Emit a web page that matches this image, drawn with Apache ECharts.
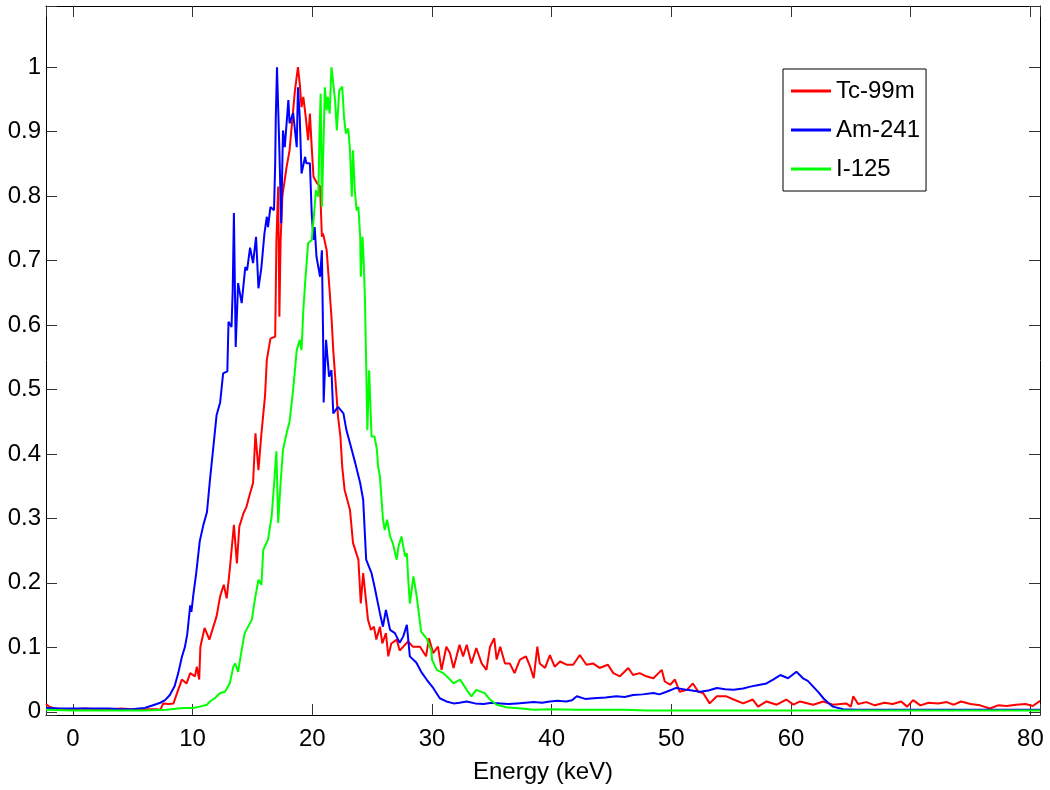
<!DOCTYPE html>
<html>
<head>
<meta charset="utf-8">
<script src="https://cdn.jsdelivr.net/npm/echarts@6/dist/echarts.min.js"></script>
<style>
html,body{margin:0;padding:0;background:#fff;}
#chart{width:1050px;height:790px;}
</style>
</head>
<body>
<div id="chart"></div>
<script>
// ---- data: [energy keV, normalized counts] ----
const seriesNames = ['Tc-99m', 'Am-241', 'I-125'];
const xTickValues = [0, 10, 20, 30, 40, 50, 60, 70, 80];
const yTickValues = [0, 0.1, 0.2, 0.3, 0.4, 0.5, 0.6, 0.7, 0.8, 0.9, 1];
const xRange = [-2.25, 80.8];
const yRange = [-0.005, 1.095];

const tc99m = [[-2.25,0.012],[-2,0.008],[-1.5,0.005],[-1,0.004],[0,0.004],[1,0.005],[2,0.004],[3,0.004],[4,0.005],[5,0.004],[6,0.004],[7,0.004],[7.3,0.003],[7.55,0.013],[8.0,0.012],[8.4,0.013],[8.7,0.029],[9.1,0.05],[9.5,0.044],[9.8,0.06],[10.2,0.055],[10.35,0.07],[10.55,0.05],[10.65,0.101],[11.0,0.13],[11.4,0.112],[12.0,0.148],[12.3,0.179],[12.6,0.197],[12.85,0.176],[13.1,0.22],[13.45,0.29],[13.7,0.23],[13.9,0.287],[14.25,0.308],[14.5,0.318],[14.8,0.339],[15.05,0.355],[15.25,0.432],[15.5,0.375],[15.75,0.432],[16.05,0.49],[16.2,0.546],[16.5,0.579],[16.9,0.582],[16.95,0.654],[17.0,0.73],[17.15,0.815],[17.25,0.613],[17.35,0.73],[17.5,0.8],[17.85,0.845],[18.1,0.871],[18.35,0.923],[18.55,0.964],[18.8,1.0],[18.95,0.975],[19.1,0.938],[19.25,0.954],[19.45,0.923],[19.65,0.887],[19.8,0.928],[19.95,0.876],[20.1,0.83],[20.4,0.82],[20.65,0.815],[20.8,0.737],[20.9,0.742],[21.2,0.716],[21.4,0.665],[21.6,0.613],[21.75,0.561],[21.95,0.51],[22.15,0.458],[22.35,0.427],[22.5,0.38],[22.7,0.344],[23.15,0.313],[23.4,0.262],[23.85,0.236],[24.05,0.168],[24.25,0.215],[24.45,0.179],[24.65,0.143],[24.9,0.127],[25.15,0.132],[25.35,0.112],[25.65,0.132],[25.85,0.106],[26.15,0.122],[26.35,0.086],[26.6,0.106],[27.05,0.112],[27.3,0.095],[27.6,0.101],[28.0,0.109],[28.4,0.101],[29.0,0.101],[29.5,0.086],[29.75,0.114],[30.1,0.091],[30.5,0.101],[30.8,0.065],[31.2,0.101],[31.5,0.091],[31.8,0.068],[32.3,0.104],[32.6,0.086],[32.9,0.104],[33.3,0.075],[33.7,0.099],[34.15,0.075],[34.55,0.065],[34.85,0.101],[35.2,0.114],[35.4,0.081],[35.7,0.101],[36.1,0.075],[36.5,0.075],[36.9,0.06],[37.35,0.081],[37.85,0.086],[38.2,0.07],[38.5,0.052],[38.8,0.101],[39.0,0.075],[39.45,0.068],[39.85,0.088],[40.25,0.07],[40.7,0.078],[41.25,0.073],[41.8,0.073],[42.35,0.088],[42.9,0.073],[43.45,0.075],[44.0,0.068],[44.7,0.073],[45.15,0.06],[45.7,0.055],[46.4,0.068],[46.8,0.057],[47.35,0.06],[47.9,0.055],[48.5,0.052],[49.2,0.065],[49.45,0.047],[49.9,0.042],[50.3,0.05],[50.7,0.031],[51.3,0.034],[51.8,0.044],[52.25,0.031],[52.65,0.029],[53.2,0.013],[53.8,0.024],[54.6,0.024],[55.2,0.019],[56.0,0.013],[56.8,0.019],[57.25,0.008],[57.95,0.016],[58.8,0.011],[59.6,0.019],[60.2,0.011],[60.75,0.016],[61.85,0.011],[62.7,0.016],[63.5,0.011],[64.6,0.013],[65.0,0.008],[65.2,0.024],[65.6,0.012],[66.3,0.015],[67.0,0.01],[67.8,0.014],[68.5,0.012],[69.2,0.016],[69.7,0.008],[70.2,0.018],[70.8,0.01],[71.5,0.014],[72.3,0.013],[73.0,0.015],[73.6,0.011],[74.2,0.016],[75.0,0.012],[75.8,0.01],[76.6,0.005],[77.3,0.01],[78.0,0.009],[78.8,0.011],[79.6,0.012],[80.2,0.009],[80.8,0.017]];

const am241 = [[-2.25,0.006],[-1,0.005],[0,0.005],[1,0.005],[2,0.005],[3,0.005],[4,0.004],[5,0.004],[5.5,0.005],[6,0.006],[6.5,0.009],[7,0.012],[7.3,0.014],[7.7,0.018],[8.1,0.026],[8.5,0.04],[8.8,0.06],[9.1,0.085],[9.35,0.1],[9.55,0.12],[9.8,0.165],[9.9,0.155],[10.05,0.18],[10.3,0.215],[10.6,0.265],[10.9,0.29],[11.2,0.31],[11.45,0.36],[11.7,0.405],[12.0,0.46],[12.3,0.48],[12.45,0.48],[12.55,0.525],[12.9,0.528],[13.0,0.605],[13.25,0.597],[13.35,0.654],[13.45,0.774],[13.6,0.566],[13.8,0.665],[14.1,0.634],[14.4,0.69],[14.55,0.685],[14.8,0.72],[15.05,0.696],[15.3,0.737],[15.5,0.657],[15.75,0.69],[16.0,0.742],[16.2,0.768],[16.3,0.752],[16.5,0.783],[16.8,0.778],[16.9,0.851],[16.95,0.923],[17.05,1.0],[17.25,0.871],[17.4,0.758],[17.55,0.902],[17.7,0.876],[18.0,0.949],[18.1,0.913],[18.4,0.929],[18.7,0.876],[18.8,0.969],[18.95,0.923],[19.1,0.835],[19.4,0.861],[19.5,0.851],[19.8,0.851],[19.95,0.773],[20.1,0.732],[20.2,0.752],[20.35,0.706],[20.65,0.675],[20.8,0.716],[20.9,0.587],[20.95,0.48],[21.15,0.577],[21.4,0.52],[21.6,0.53],[21.75,0.463],[22.15,0.473],[22.6,0.463],[22.85,0.437],[23.3,0.406],[23.6,0.385],[24.0,0.355],[24.25,0.329],[24.5,0.236],[24.95,0.215],[25.2,0.194],[25.65,0.153],[25.9,0.132],[26.15,0.158],[26.5,0.127],[26.9,0.122],[27.3,0.107],[27.6,0.117],[27.9,0.135],[28.15,0.086],[28.7,0.076],[29.1,0.062],[29.55,0.05],[30.1,0.037],[30.65,0.021],[31.2,0.016],[31.8,0.013],[32.3,0.014],[32.9,0.016],[33.6,0.013],[34.3,0.012],[35.0,0.014],[35.7,0.013],[36.4,0.012],[37.1,0.013],[37.8,0.014],[38.5,0.015],[39.2,0.014],[39.85,0.016],[40.5,0.017],[41.2,0.016],[41.7,0.018],[42.1,0.024],[42.8,0.02],[43.5,0.021],[44.5,0.022],[45.4,0.024],[46.1,0.023],[46.8,0.026],[47.6,0.027],[48.5,0.029],[49.0,0.027],[49.6,0.031],[50.4,0.037],[51.3,0.034],[52.4,0.031],[53.1,0.033],[53.8,0.037],[54.5,0.035],[55.2,0.034],[56.0,0.036],[56.6,0.039],[57.4,0.042],[57.95,0.044],[58.5,0.05],[59.1,0.057],[59.75,0.052],[60.45,0.062],[61.0,0.052],[61.4,0.048],[61.85,0.039],[62.3,0.03],[62.7,0.021],[63.1,0.014],[63.5,0.008],[64.35,0.004],[65.5,0.003],[67,0.003],[69,0.003],[71,0.003],[73,0.003],[75,0.003],[77,0.003],[79,0.003],[80.8,0.003]];

const i125 = [[-2.25,0.003],[0,0.002],[2,0.002],[4,0.002],[6,0.002],[7.8,0.003],[9.2,0.006],[10.05,0.006],[10.6,0.008],[11.2,0.011],[11.45,0.016],[11.85,0.021],[12.3,0.029],[12.7,0.031],[13.1,0.044],[13.4,0.07],[13.55,0.075],[13.8,0.062],[14.1,0.096],[14.35,0.122],[14.95,0.143],[15.2,0.174],[15.5,0.205],[15.75,0.197],[15.9,0.251],[16.3,0.267],[16.6,0.303],[16.75,0.339],[17.0,0.404],[17.15,0.293],[17.35,0.355],[17.55,0.406],[17.85,0.432],[18.1,0.45],[18.4,0.5],[18.7,0.561],[18.95,0.577],[19.1,0.561],[19.25,0.623],[19.4,0.665],[19.65,0.727],[19.95,0.732],[20.15,0.773],[20.3,0.809],[20.5,0.799],[20.6,0.897],[20.7,0.959],[20.8,0.783],[20.9,0.856],[21.05,0.969],[21.2,0.933],[21.3,0.954],[21.45,0.928],[21.6,1.0],[21.75,0.975],[21.9,0.949],[22.05,0.902],[22.25,0.964],[22.5,0.97],[22.65,0.923],[22.8,0.897],[23.0,0.905],[23.15,0.871],[23.3,0.799],[23.4,0.871],[23.55,0.809],[23.7,0.778],[23.85,0.783],[24.0,0.737],[24.05,0.675],[24.2,0.737],[24.3,0.696],[24.4,0.639],[24.5,0.54],[24.6,0.437],[24.75,0.53],[24.95,0.427],[25.2,0.427],[25.4,0.406],[25.5,0.38],[25.65,0.365],[25.9,0.3],[26.05,0.282],[26.25,0.298],[26.5,0.272],[26.75,0.26],[27.05,0.236],[27.2,0.256],[27.45,0.272],[27.75,0.241],[27.9,0.246],[28.0,0.21],[28.15,0.168],[28.45,0.21],[28.7,0.182],[29.1,0.124],[29.55,0.114],[29.95,0.095],[30.0,0.081],[30.4,0.065],[30.95,0.06],[31.4,0.052],[31.8,0.044],[32.35,0.05],[32.9,0.034],[33.3,0.024],[33.7,0.034],[34.4,0.029],[34.85,0.019],[35.4,0.011],[36.2,0.007],[37.5,0.005],[38.5,0.003],[40,0.004],[42,0.003],[44,0.003],[46,0.003],[48,0.002],[50,0.002],[55,0.002],[60,0.002],[65,0.002],[70,0.002],[75,0.002],[80.8,0.002]];

const seriesData = [tc99m, am241, i125];
const seriesColors = ['#ff0000', '#0000ff', '#00ff00'];
// ---------------------------------------------

const FONT = '"Liberation Sans", Arial, Helvetica, sans-serif';
function isTick(v, list) { return list.some(t => Math.abs(t - v) < 1e-6); }
function xFmt(v) { return isTick(v, xTickValues) ? String(Math.round(v)) : ''; }
function yFmt(v) { return isTick(v, yTickValues) ? String(Math.round(v * 10) / 10) : ''; }

const axisLineStyle = { color: '#000', width: 1 };
const tickStyle = { show: true, inside: true, length: 11, lineStyle: { color: '#333', width: 1 } };

const chart = echarts.init(document.getElementById('chart'), null, { renderer: 'canvas' });
chart.setOption({
  animation: false,
  backgroundColor: '#fff',
  textStyle: { fontFamily: FONT },
  grid: { left: 46, right: 10, top: 6, bottom: 75, containLabel: false, outerBoundsMode: 'none' },
  legend: {
    data: seriesNames.map(n => ({ name: n, icon: 'rect' })),
    orient: 'vertical',
    left: 783, top: 69,
    backgroundColor: '#fff',
    borderColor: '#000', borderWidth: 1, borderRadius: 0,
    padding: [10, 6, 10, 8],
    itemWidth: 40, itemHeight: 3, itemGap: 15,
    textStyle: { fontFamily: FONT, fontSize: 24, color: '#000', lineHeight: 24 }
  },
  xAxis: [{
    type: 'value', min: xRange[0], max: xRange[1], minInterval: 10, maxInterval: 10,
    name: 'Energy (keV)', nameLocation: 'middle', nameGap: 45,
    nameTextStyle: { fontFamily: FONT, fontSize: 24, color: '#000' },
    axisLine: { show: true, onZero: false, lineStyle: axisLineStyle },
    axisTick: tickStyle,
    axisLabel: { formatter: xFmt, fontFamily: FONT, fontSize: 24, color: '#000', margin: 12, hideOverlap: false },
    splitLine: { show: false }
  }, {
    type: 'value', position: 'top', min: xRange[0], max: xRange[1], minInterval: 10, maxInterval: 10,
    axisLine: { show: true, onZero: false, lineStyle: axisLineStyle },
    axisTick: tickStyle, axisLabel: { show: false }, splitLine: { show: false }
  }],
  yAxis: [{
    type: 'value', min: yRange[0], max: yRange[1], minInterval: 0.1, maxInterval: 0.1,
    axisLine: { show: true, onZero: false, lineStyle: axisLineStyle },
    axisTick: tickStyle,
    axisLabel: { formatter: yFmt, fontFamily: FONT, fontSize: 24, color: '#000', margin: 5, hideOverlap: false },
    splitLine: { show: false }
  }, {
    type: 'value', position: 'right', min: yRange[0], max: yRange[1], minInterval: 0.1, maxInterval: 0.1,
    axisLine: { show: true, onZero: false, lineStyle: axisLineStyle },
    axisTick: tickStyle, axisLabel: { show: false }, splitLine: { show: false }
  }],
  series: seriesNames.map((name, i) => ({
    name: name,
    type: 'line',
    xAxisIndex: 0, yAxisIndex: 0,
    data: seriesData[i],
    symbol: 'none', showSymbol: false,
    color: seriesColors[i],
    lineStyle: { color: seriesColors[i], width: 2 },
    itemStyle: { color: seriesColors[i] },
    emphasis: { disabled: true },
    z: 2 + i
  }))
});
</script>
</body>
</html>
